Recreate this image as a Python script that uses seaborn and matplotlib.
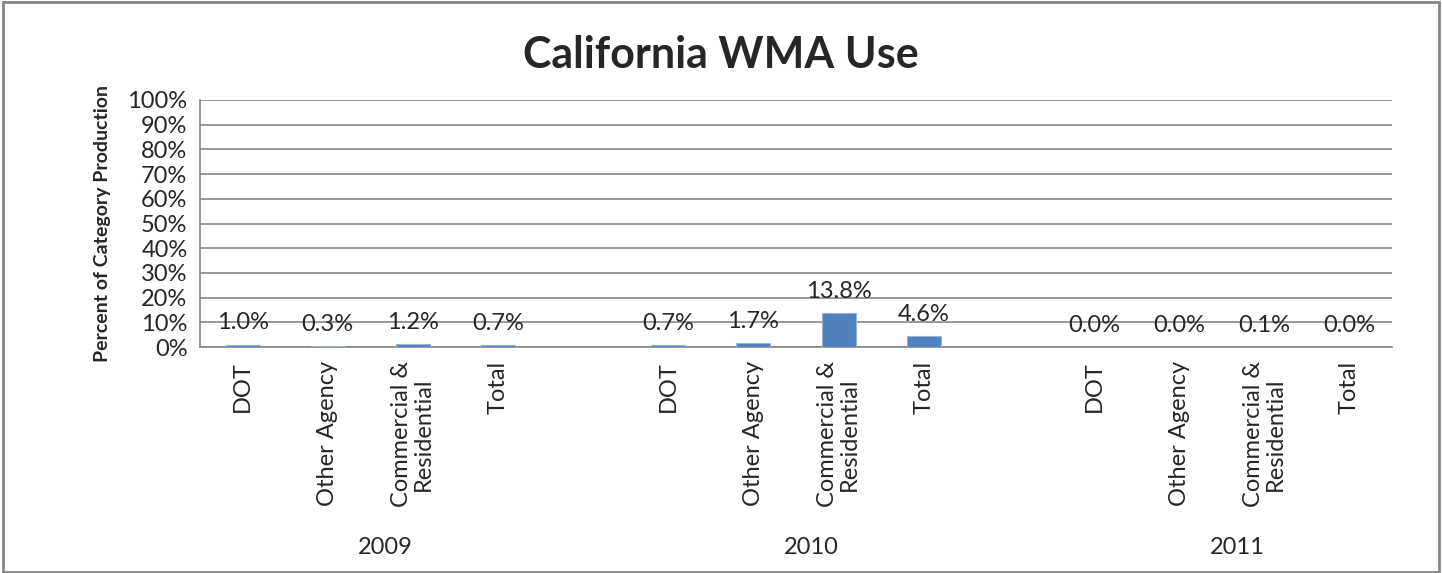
import pandas as pd
import matplotlib.pyplot as plt
import seaborn as sns
from matplotlib.patches import Rectangle

# chart data (percent of category production)
years = ['2009', '2010', '2011']
categories = ['DOT', 'Other Agency', 'Commercial &\nResidential', 'Total']
values_2009 = [1.0, 0.3, 1.2, 0.7]
values_2010 = [0.7, 1.7, 13.8, 4.6]
values_2011 = [0.0, 0.0, 0.1, 0.0]
values = [values_2009, values_2010, values_2011]

# build slot order: 4 categories per year, with an empty slot between years
order = []
rows = []
for yi, year in enumerate(years):
    for ci, cat in enumerate(categories):
        key = f'{year}|{cat}'
        order.append(key)
        rows.append({'slot': key, 'value': values[yi][ci], 'year': year})
    if yi < len(years) - 1:
        order.append(f'gap{yi}')
df = pd.DataFrame(rows)

sns.set_style('white')
plt.rcParams['font.family'] = ['Lato', 'DejaVu Sans']

fig = plt.figure(figsize=(14.42, 5.73), dpi=100)
ax = fig.add_axes([200 / 1442, 1 - 347 / 573, 1192 / 1442, 247 / 573])

sns.barplot(data=df, x='slot', y='value', order=order, color='#4F81BD',
            saturation=1, width=0.4, edgecolor='#95B3D7', linewidth=0.8,
            ax=ax, zorder=3)

ax.set_ylim(0, 100)
ax.set_xlim(-0.5, len(order) - 0.5)
ax.set_yticks(range(0, 101, 10))
ax.set_yticklabels([f'{v}%' for v in range(0, 101, 10)], fontsize=17)
ax.yaxis.grid(True, color='#868686', linewidth=1.2, zorder=0)
ax.set_axisbelow(True)

for s in ['top', 'right']:
    ax.spines[s].set_visible(False)
for s in ['left', 'bottom']:
    ax.spines[s].set_color('#868686')
    ax.spines[s].set_linewidth(1.2)

# tick marks on slot boundaries, labels on slot centers
ax.set_xticks([i - 0.5 for i in range(len(order) + 1)])
ax.set_xticklabels([])
ax.tick_params(axis='x', which='major', length=6, color='#868686', width=1.2)
ax.tick_params(axis='y', which='major', length=5, color='#868686', width=1.2, pad=4)
label_pos = [i for i, k in enumerate(order) if '|' in k]
ax.set_xticks(label_pos, minor=True)
ax.set_xticklabels([k.split('|')[1] for k in order if '|' in k], minor=True,
                   rotation=90, fontsize=17, va='top', ha='center',
                   multialignment='center', linespacing=1.05)
ax.tick_params(axis='x', which='minor', length=0, pad=10)
ax.set_xlabel('')
ax.set_ylabel('Percent of Category Production', fontsize=14, fontweight='bold', labelpad=12)

# data labels
for _, r in df.iterrows():
    i = order.index(r['slot'])
    ax.annotate(f"{r['value']:.1f}%", (i, r['value']), xytext=(0, 8),
                textcoords='offset points', ha='center', va='bottom', fontsize=17)

# year labels under each group
for yi, year in enumerate(years):
    pos = [order.index(f'{year}|{c}') for c in categories]
    center = sum(pos) / len(pos) + 0.18
    ax.text(center, -0.81, year, transform=ax.get_xaxis_transform(),
            ha='center', va='center', fontsize=17)

fig.suptitle('California WMA Use', fontsize=31, fontweight='bold', y=1 - 55 / 573, va='center')

# chart border
fig.patches.append(Rectangle((0.002, 0.002), 0.996, 0.995, transform=fig.transFigure,
                             fill=False, edgecolor='#868686', linewidth=2))

fig.savefig('out.png', dpi=100)
